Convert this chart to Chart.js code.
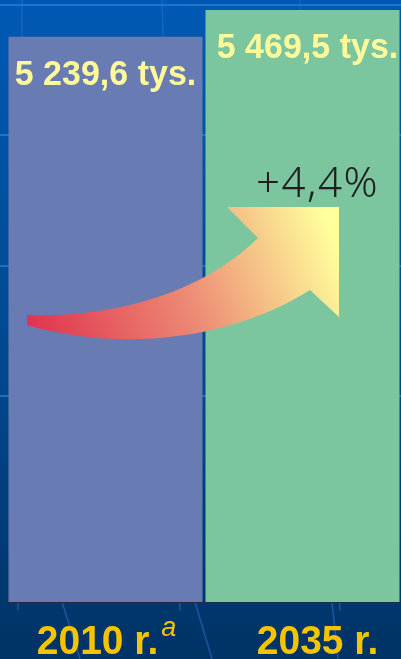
<!DOCTYPE html>
<html>
<head>
<meta charset="utf-8">
<script src="https://cdn.jsdelivr.net/npm/chart.js@4/dist/chart.umd.min.js"></script>
<style>
  html, body { margin: 0; padding: 0; background: #003366; }
  #wrap { width: 401px; height: 659px; }
</style>
</head>
<body>
<div id="wrap"><canvas id="ludnosc" width="401" height="659"></canvas></div>
<script>
// dane z wykresu
var lata = ["2010 r.", "2035 r."];
var przypisy = ["a", ""];
var ludnosc = [5239.6, 5469.5]; // tys. osób
var etykiety = ["5 239,6 tys.", "5 469,5 tys."];
var zmiana = "+4,4%";
var kolory = ["#687bb3", "#7bc59f"];

// tło w stylu szablonu prezentacji
var tloPlugin = {
  id: "tlo",
  beforeDraw: function (chart) {
    var ctx = chart.ctx;
    var w = chart.width, h = chart.height;
    ctx.save();
    var g = ctx.createLinearGradient(0, 0, 0, h);
    g.addColorStop(0, "#0059b4");
    g.addColorStop(0.55, "#00488f");
    g.addColorStop(1, "#003366");
    ctx.fillStyle = g;
    ctx.fillRect(0, 0, w, h);
    ctx.strokeStyle = "rgba(60,140,230,0.55)";
    ctx.lineWidth = 2;
    [5, 135, 266, 396].forEach(function (y) {
      ctx.beginPath();
      ctx.moveTo(0, y);
      ctx.lineTo(w, y);
      ctx.stroke();
    });
    ctx.lineWidth = 1.5;
    ctx.strokeStyle = "rgba(40,110,200,0.6)";
    [[22, 18], [162, 180], [300, 340]].forEach(function (p) {
      ctx.beginPath();
      ctx.moveTo(p[0], 0);
      ctx.lineTo(p[1], 610);
      ctx.stroke();
    });
    [[62, 80], [195, 212], [332, 338]].forEach(function (p) {
      ctx.beginPath();
      ctx.moveTo(p[0], 602);
      ctx.lineTo(p[1], h);
      ctx.stroke();
    });
    ctx.restore();
  }
};

// etykiety wartości, lat, strzałka
var opisyPlugin = {
  id: "opisy",
  afterDatasetsDraw: function (chart) {
    var ctx = chart.ctx;
    var bary = chart.getDatasetMeta(0).data;
    ctx.save();

    // wartości nad słupkami
    ctx.fillStyle = "#fff99a";
    ctx.font = "bold 34px 'Liberation Sans', Arial, sans-serif";
    ctx.textAlign = "center";
    ctx.textBaseline = "alphabetic";
    bary.forEach(function (b, i) {
      ctx.save();
      ctx.translate(b.x + (i === 1 ? 5 : 0), b.y + 48);
      ctx.scale(1, 1.03);
      ctx.fillText(etykiety[i], 0, 0);
      ctx.restore();
    });

    // strzałka
    ctx.beginPath();
    ctx.moveTo(27, 315);
    ctx.bezierCurveTo(110, 318, 200, 295, 258, 238);
    ctx.lineTo(227, 207);
    ctx.lineTo(339, 207);
    ctx.lineTo(339, 317);
    ctx.lineTo(310, 290);
    ctx.bezierCurveTo(240, 335, 130, 355, 27, 325);
    ctx.closePath();
    var ga = ctx.createLinearGradient(30, 330, 325, 215);
    ga.addColorStop(0, "#e0334f");
    ga.addColorStop(0.5, "#ec8a74");
    ga.addColorStop(1, "#ffff9c");
    ctx.fillStyle = ga;
    ctx.fill();

    // zmiana procentowa
    ctx.fillStyle = "#1f1f1f";
    ctx.font = "300 42px 'Noto Sans', sans-serif";
    ctx.letterSpacing = "1.5px";
    ctx.textAlign = "center";
    ctx.fillText(zmiana, bary[1].x + 15, 197);
    ctx.letterSpacing = "0px";

    // podpisy lat
    var fontLat = "bold 39px 'Liberation Sans', Arial, sans-serif";
    var fontPrzyp = "italic 27px 'Liberation Sans', Arial, sans-serif";
    ctx.fillStyle = "#f5c400";
    ctx.textAlign = "left";
    lata.forEach(function (t, i) {
      ctx.font = fontLat;
      var tw = ctx.measureText(t).width;
      ctx.font = fontPrzyp;
      var sw = przypisy[i] ? ctx.measureText(przypisy[i]).width + 3 : 0;
      var x0 = chart.scales.x.getPixelForValue(i) - (tw + sw) / 2 + (i === 1 ? 15 : 1);
      ctx.save();
      ctx.translate(x0, 654);
      ctx.scale(1, 1.03);
      ctx.font = fontLat;
      ctx.fillText(t, 0, 0);
      if (przypisy[i]) {
        ctx.font = fontPrzyp;
        ctx.fillText(przypisy[i], tw + 3, -17);
      }
      ctx.restore();
    });
    ctx.restore();
  }
};

var ctx = document.getElementById("ludnosc").getContext("2d");
var wykres = new Chart(ctx, {
  type: "bar",
  data: {
    labels: lata,
    datasets: [
      {
        data: ludnosc,
        backgroundColor: kolory,
        borderWidth: 0,
        categoryPercentage: 1,
        barPercentage: 0.985
      }
    ]
  },
  options: {
    responsive: false,
    animation: false,
    devicePixelRatio: 1,
    layout: { padding: { left: 7, right: 0, top: 0, bottom: 49 } },
    plugins: {
      legend: { display: false },
      tooltip: { enabled: false }
    },
    scales: {
      x: {
        ticks: { display: false },
        grid: { display: false },
        border: { display: true, color: "#1e2b45", width: 2 }
      },
      y: {
        display: false,
        min: 400,
        max: 5555
      }
    }
  },
  plugins: [tloPlugin, opisyPlugin]
});
</script>
</body>
</html>
